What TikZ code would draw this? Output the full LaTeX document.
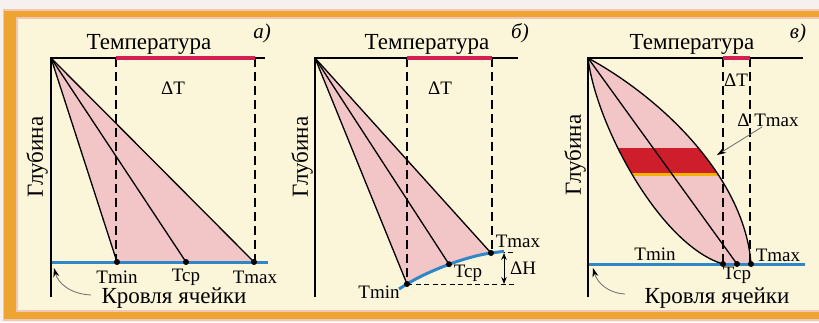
\documentclass[tikz,border=0pt]{standalone}
\usepackage{fontspec}
\setmainfont{Liberation Serif}
\usetikzlibrary{arrows.meta}
\definecolor{bgout}{HTML}{F6F0EE}
\definecolor{frameor}{HTML}{EEA430}
\definecolor{framepink}{HTML}{F1C6B4}
\definecolor{cream}{HTML}{FBF5D9}
\definecolor{pinkfill}{HTML}{F2C5C7}
\definecolor{redtop}{HTML}{D31F52}
\definecolor{redband}{HTML}{CE1E2C}
\definecolor{yellowline}{HTML}{F2B400}
\definecolor{blueline}{HTML}{2F87C8}
\definecolor{arrgray}{HTML}{6A6A6A}
\tikzset{
  axisln/.style={line width=1.4pt, black},
  prof/.style={line width=1.3pt, black},
  dashln/.style={line width=1.4pt, black, dash pattern=on 9pt off 5pt},
  topred/.style={line width=3.6pt, redtop},
  roof/.style={line width=3pt, blueline},
  dotn/.style={circle, fill=black, inner sep=0pt, minimum size=6pt},
  lbl/.style={font=\rmfamily\fontsize{19}{22}\selectfont, inner sep=0pt},
  big/.style={font=\rmfamily\fontsize{23}{27}\selectfont, inner sep=0pt},
  ital/.style={font=\rmfamily\fontsize{21}{24}\selectfont\itshape, inner sep=0pt},
  ptr/.style={line width=0.8pt, arrgray, -{Stealth[length=9pt,width=6pt,color=black]}},
}
\begin{document}
\begin{tikzpicture}[x=1pt,y=-1pt]
\useasboundingbox (0,0) rectangle (819,322);
% frame
\fill[bgout] (0,0) rectangle (819,322);
\fill[framepink] (3,9) rectangle (819,321);
\fill[frameor] (4,11) rectangle (819,319);
\fill[framepink] (16,17) rectangle (819,312);
\fill[cream] (18,19) rectangle (819,310);

% ================= panel a =================
\coordinate (a0) at (51,58);
\coordinate (aAxB) at (51,297);
\coordinate (aAxR) at (265,58);
\coordinate (aRL) at (116,58);
\coordinate (aRR) at (255,58);
\coordinate (aDL) at (116,262);
\coordinate (aDR) at (255,262);
\coordinate (aBL) at (52,262);
\coordinate (aBR) at (268,262);
\fill[pinkfill] (a0) -- (117,262) -- (254,262) -- cycle;
\draw[dashln] (aRL) -- (aDL);
\draw[dashln] (aRR) -- (aDR);
\draw[roof] (aBL) -- (aBR);
\draw[axisln] (aAxB) -- (a0) -- (aAxR);
\draw[topred] (aRL) -- (aRR);
\node[dotn] (aTmin) at (117,262) {};
\node[dotn] (aTcp) at (186,262) {};
\node[dotn] (aTmax) at (254,262) {};
\draw[prof] (a0) -- (aTmin.center);
\draw[prof] (a0) -- (aTcp.center);
\draw[prof] (a0) -- (aTmax.center);
\node[lbl] (aLmin) at (117,277) {Tmin};
\node[lbl] (aLcp) at (186,277) {Tcp};
\node[lbl] (aLmax) at (255,277) {Tmax};
\node[lbl] (aDT) at (173,88) {ΔT};
\node[big] (aTemp) at (149,44) {Температура};
\node[ital] (aLet) at (262,33) {а)};
\node[big, rotate=90] (aDepth) at (37,157) {Глубина};
\node[big] (aRoof) at (174,298) {Кровля ячейки};
\coordinate (aArrS) at (91,295);
\coordinate (aArrE) at (54,268);
\draw[ptr] (aArrS) .. controls (70,294) and (58,283) .. (aArrE);

% ================= panel b =================
\coordinate (b0) at (315,58);
\coordinate (bAxB) at (315,297);
\coordinate (bAxR) at (518,58);
\coordinate (bRL) at (407,58);
\coordinate (bRR) at (492,58);
\coordinate (bDL) at (407,284);
\coordinate (bDR) at (492,253);
\fill[pinkfill] (b0) -- (407,284) .. controls (430,270) and (468,256) .. (491,253) -- cycle;
\draw[dashln] (bRL) -- (bDL);
\draw[dashln] (bRR) -- (bDR);
\draw[line width=0.9pt, dash pattern=on 5pt off 3.5pt] (407,284) -- (517,284);
\draw[line width=0.9pt, dash pattern=on 5pt off 3.5pt] (491,252.5) -- (515,252.5);
\draw[roof] (399,289) -- (407,284) .. controls (430,270) and (468,256) .. (491,253) -- (504,251.3);
\draw[axisln] (bAxB) -- (b0) -- (bAxR);
\draw[topred] (bRL) -- (bRR);
\node[dotn] (bTmin) at (407,284) {};
\node[dotn] (bTcp) at (449,264.2) {};
\node[dotn] (bTmax) at (491,253) {};
\draw[prof] (b0) -- (bTmin.center);
\draw[prof] (b0) -- (bTcp.center);
\draw[prof] (b0) -- (bTmax.center);
\coordinate (bHt) at (504,253);
\coordinate (bHb) at (504,284);
\draw[line width=0.9pt, {Stealth[length=7pt,width=5.5pt]}-{Stealth[length=7pt,width=5.5pt]}] (bHt) -- (bHb);
\node[lbl] (bLmin) at (379,292) {Tmin};
\node[lbl] (bLcp) at (468,273) {Tcp};
\node[lbl] (bLmax) at (518,241) {Tmax};
\node[lbl] (bDH) at (523,268) {ΔH};
\node[lbl] (bDT) at (440,88) {ΔT};
\node[big] (bTemp) at (427,44) {Температура};
\node[ital] (bLet) at (520,33) {б)};
\node[big, rotate=90] (bDepth) at (302,157) {Глубина};

% ================= panel v =================
\coordinate (v0) at (588,58);
\coordinate (vAxB) at (588,297);
\coordinate (vAxR) at (803,58);
\coordinate (vRL) at (723,58);
\coordinate (vRR) at (750,58);
\coordinate (vDL) at (723,264);
\coordinate (vDR) at (750,264);
\coordinate (vBL) at (589,264);
\coordinate (vBR) at (805,264);
\fill[pinkfill] (v0) .. controls (665,100) and (745,180) .. (751,264) -- (723,264) .. controls (660,245) and (596,125) .. (v0) -- cycle;
\begin{scope}
  \clip (v0) .. controls (665,100) and (745,180) .. (751,264) -- (723,264) .. controls (660,245) and (596,125) .. (v0) -- cycle;
  \fill[redband] (590,148) rectangle (760,173);
  \fill[yellowline] (590,173) rectangle (760,175.5);
\end{scope}
\draw[dashln] (vRL) -- (vDL);
\draw[dashln] (vRR) -- (vDR);
\draw[roof] (vBL) -- (vBR);
\draw[axisln] (vAxB) -- (v0) -- (vAxR);
\draw[topred] (vRL) -- (vRR);
\node[dotn] (vTmin) at (723,264) {};
\node[dotn] (vTcp) at (737,264) {};
\node[dotn] (vTmax) at (751,264) {};
\draw[prof] (v0) .. controls (596,125) and (660,245) .. (vTmin.center);
\draw[prof] (v0) -- (vTcp.center);
\draw[prof] (v0) .. controls (665,100) and (745,180) .. (vTmax.center);
\node[lbl] (vLmin) at (655,254) {Tmin};
\node[lbl] (vLcp) at (737,275) {Tcp};
\node[lbl] (vLmax) at (778,255) {Tmax};
\node[lbl] (vDT) at (736,80) {ΔT};
\node[lbl] (vDTmax) at (768,120) {Δ Tmax};
\coordinate (vArrS) at (762,127);
\coordinate (vArrE) at (717,155);
\draw[ptr] (vArrS) -- (vArrE);
\node[big] (vTemp) at (692,44) {Температура};
\node[ital] (vLet) at (798,33) {в)};
\node[big, rotate=90] (vDepth) at (575,155) {Глубина};
\node[big] (vRoof) at (717,298) {Кровля ячейки};
\coordinate (vArrS2) at (625,294);
\coordinate (vArrE2) at (593,268);
\draw[ptr] (vArrS2) .. controls (607,293) and (597,282) .. (vArrE2);
\end{tikzpicture}
\end{document}
